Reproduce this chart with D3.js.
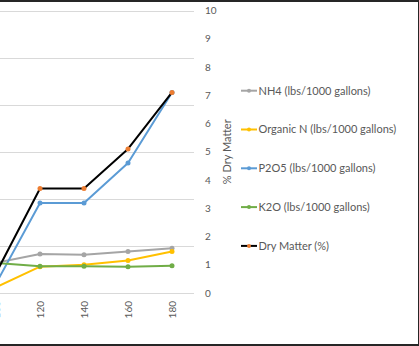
<!DOCTYPE html>
<html>
<head>
<meta charset="utf-8">
<script src="https://cdn.jsdelivr.net/npm/d3@7"></script>
<style>
  html, body { margin: 0; padding: 0; background: #262626; }
  svg { display: block; }
  text { font-family: Lato, "Liberation Sans", sans-serif; fill: #595959; }
</style>
</head>
<body>
<div id="chart"></div>
<script>
// categories along the bottom (left part of the chart is cut off)
var categories = [100, 120, 140, 160, 180];

// lbs/1000 gallons (primary axis, off-screen on the left)
var nh4      = [6.4, 8.3, 8.1, 8.8, 9.5];
var organicN = [1.2, 5.6, 6.0, 6.9, 8.8];
var p2o5     = [2.0, 19.1, 19.1, 27.6, 42.6];
var k2o      = [6.4, 5.7, 5.7, 5.6, 5.8];

// % dry matter (secondary axis)
var dryMatter = [0.7, 3.7, 3.7, 5.1, 7.1];

var rightTicks = [0, 1, 2, 3, 4, 5, 6, 7, 8, 9, 10];
var gridTicks = [0, 10, 20, 30, 40, 50, 60];

var series = [
  {name: "NH4 (lbs/1000 gallons)", values: nh4, line: "#a5a5a5", marker: "#a5a5a5", axis: "left"},
  {name: "Organic N (lbs/1000 gallons)", values: organicN, line: "#ffc000", marker: "#ffc000", axis: "left"},
  {name: "P2O5 (lbs/1000 gallons)", values: p2o5, line: "#5b9bd5", marker: "#5b9bd5", axis: "left"},
  {name: "K2O (lbs/1000 gallons)", values: k2o, line: "#70ad47", marker: "#70ad47", axis: "left"},
  {name: "Dry Matter (%)", values: dryMatter, line: "#000000", marker: "#ed7d31", axis: "right"}
];

var width = 419
  , height = 346
  , plotTop = 10.5
  , plotBottom = 293
  , plotRight = 194;

var svg = d3.select("#chart").append("svg")
    .attr("width", width)
    .attr("height", height);

// white chart area inside the dark frame
svg.append("rect")
    .attr("x", 0).attr("y", 2)
    .attr("width", 418).attr("height", 342)
    .attr("fill", "#ffffff");

var x = d3.scaleBand()
    .domain(categories)
    .range([plotRight - categories.length * 44, plotRight]);

var yLeft = d3.scaleLinear()
    .domain([0, 60])
    .range([plotBottom, plotTop]);

var yRight = d3.scaleLinear()
    .domain([0, 10])
    .range([plotBottom, plotTop]);

// gridlines from the primary axis
svg.append("g")
    .selectAll("line")
    .data(gridTicks)
   .enter().append("line")
    .attr("x1", -30).attr("x2", plotRight)
    .attr("y1", d => Math.round(yLeft(d)) + 0.5)
    .attr("y2", d => Math.round(yLeft(d)) + 0.5)
    .attr("stroke", "#d9d9d9")
    .attr("stroke-width", 1);

// secondary axis labels
svg.append("g")
    .selectAll("text")
    .data(rightTicks)
   .enter().append("text")
    .attr("x", 205)
    .attr("y", d => yRight(d))
    .attr("dy", "0.35em")
    .attr("font-size", 10)
    .text(d => d);

svg.append("text")
    .attr("transform", "translate(231," + ((plotTop + plotBottom) / 2) + ") rotate(-90)")
    .attr("text-anchor", "middle")
    .attr("font-size", 11)
    .text("% Dry Matter");

// category labels, rotated
svg.append("g")
    .selectAll("text")
    .data(categories)
   .enter().append("text")
    .attr("transform", d => "translate(" + (x(d) + x.bandwidth() / 2 + 3.5) + ",301) rotate(-90)")
    .attr("text-anchor", "end")
    .attr("font-size", 10)
    .text(d => d);

// lines and markers
var cx = function(i){ return x(categories[i]) + x.bandwidth() / 2; };

series.forEach(function(s){
  var yScale = s.axis == "right" ? yRight : yLeft;
  var line = d3.line()
      .x((d, i) => cx(i))
      .y(d => yScale(d));

  var g = svg.append("g").attr("class", "series");
  g.append("path")
      .datum(s.values)
      .attr("d", line)
      .attr("fill", "none")
      .attr("stroke", s.line)
      .attr("stroke-width", 2)
      .attr("stroke-linejoin", "round");

  g.selectAll("circle")
      .data(s.values)
     .enter().append("circle")
      .attr("cx", (d, i) => cx(i))
      .attr("cy", d => yScale(d))
      .attr("r", 2.5)
      .attr("fill", s.marker);
});

// legend
var legend = svg.append("g")
    .selectAll("g")
    .data(series)
   .enter().append("g")
    .attr("transform", (d, i) => "translate(241," + (90.7 + i * 38.8) + ")");

legend.append("line")
    .attr("x1", 0).attr("x2", 16)
    .attr("stroke", d => d.line)
    .attr("stroke-width", 2);

legend.append("circle")
    .attr("cx", 8)
    .attr("r", 2)
    .attr("fill", d => d.marker);

legend.append("text")
    .attr("x", 17.5)
    .attr("dy", "0.35em")
    .attr("font-size", 11)
    .text(d => d.name);
</script>
</body>
</html>
